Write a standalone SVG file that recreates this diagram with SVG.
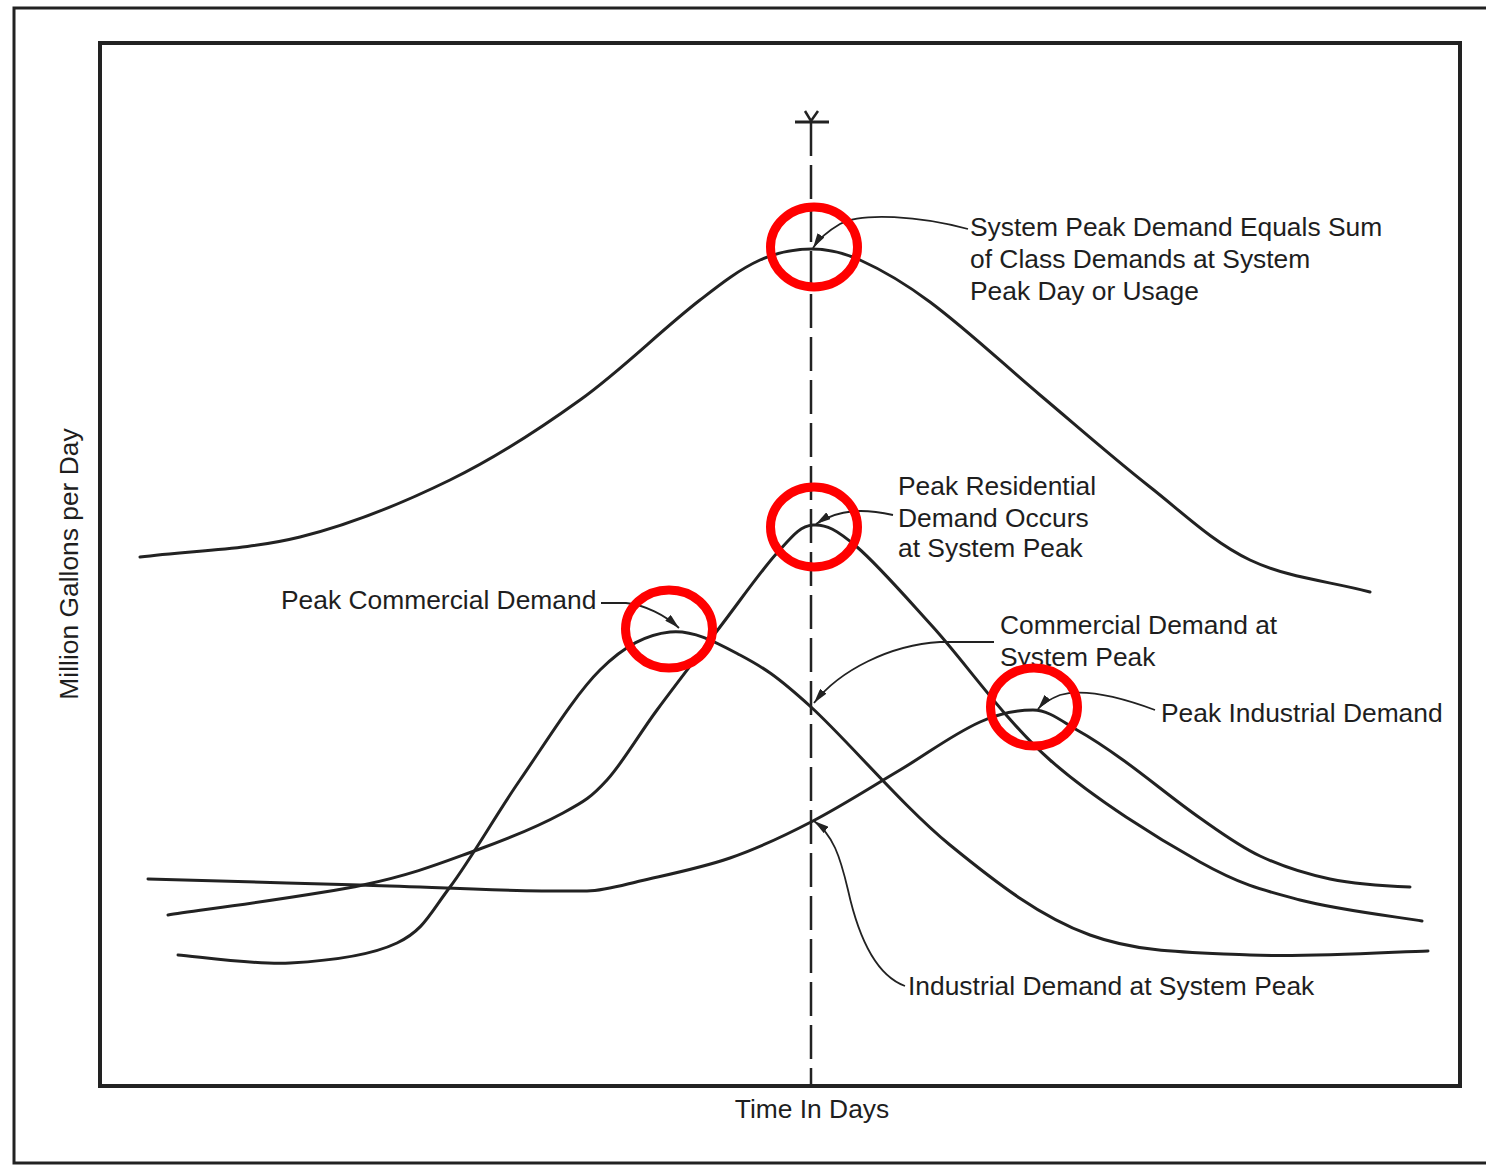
<svg xmlns="http://www.w3.org/2000/svg" width="1486" height="1165" viewBox="0 0 1486 1165">
<style>
.frame{fill:none;stroke:#222;}
.curve{fill:none;stroke:#222;stroke-width:3;stroke-linecap:round;stroke-linejoin:round;}
.leader{fill:none;stroke:#222;stroke-width:1.8;}
.lbl{font-family:"Liberation Sans",Arial,Helvetica,sans-serif;font-size:26.4px;fill:#1e1e1e;}
.ring{fill:none;stroke:#ff0000;stroke-width:9;}
</style>
<defs>
<marker id="arr" viewBox="0 0 15 8" refX="15" refY="4" markerWidth="15" markerHeight="8" markerUnits="userSpaceOnUse" orient="auto">
<path d="M0,0 L15,4 L0,8 Z" fill="#222"/>
</marker>
</defs>
<rect width="1486" height="1165" fill="#fff"/>
<rect class="frame" x="14" y="8" width="1490" height="1155" stroke-width="3"/>
<rect class="frame" x="100" y="43" width="1360" height="1043" stroke-width="4"/>

<g id="axis-marker">
<line x1="811" y1="122" x2="811" y2="1086" stroke="#222" stroke-width="2.5" stroke-dasharray="34 9"/>
<line x1="795" y1="122" x2="829" y2="122" stroke="#222" stroke-width="3"/>
<polyline points="805,111 811,121 818,111" fill="none" stroke="#222" stroke-width="2.5"/>
</g>

<g id="system-curve">
<path class="curve" d="M140,557 C193.3,550.3 247.9,549.9 300,537 C351.9,524.1 402,503.5 450,480 C495.7,457.7 538.7,429.7 580,400 C622.3,369.6 658.9,332 700,300 C718.9,285.3 738.2,269.9 760,260 C776.1,252.7 794.3,249 812,249 C828.4,249 845,253.3 860,260 C884.8,271.2 908.2,285.7 930,302 C968.4,330.8 1003.3,364.1 1040,395 C1076.6,425.8 1112.4,457.5 1150,487 C1182.5,512.5 1212.7,542.2 1250,560 C1287.3,577.8 1330,581.3 1370,592"/>
</g>

<g id="residential-curve">
<path class="curve" d="M168,915 C200.5,910 311.5,895.8 363,885 C414.5,874.2 443.7,862 477,850 C510.3,838 541.3,824.7 563,813 C584.7,801.3 591.3,797.2 607,780 C622.7,762.8 638.2,735.5 657,710 C675.8,684.5 700,653.2 720,627 C740,600.8 761.5,570 777,553 C792.5,536 799.7,526 813,525 C826.3,524 837,530 857,547 C877,564 900.8,591.5 933,627 C965.2,662.5 1005.5,720.8 1050,760 C1094.5,799.2 1158.3,838.7 1200,862 C1241.7,885.3 1263,890.2 1300,900 C1337,909.8 1401.7,917.5 1422,921"/>
</g>

<g id="commercial-curve">
<path class="curve" d="M178,955 C196.7,956.3 253.5,965 290,963 C326.5,961 370.3,955.7 397,943 C423.7,930.3 429.5,914.2 450,887 C470.5,859.8 495,816.2 520,780 C545,743.8 575,694.7 600,670 C625,645.3 646.7,634.5 670,632 C693.3,629.5 716.5,642.5 740,655 C763.5,667.5 776,675.3 811,707 C846,738.7 903.5,807 950,845 C996.5,883 1040,916.7 1090,935 C1140,953.3 1193.7,952.3 1250,955 C1306.3,957.7 1398.3,951.7 1428,951"/>
</g>

<g id="industrial-curve">
<path class="curve" d="M148,879 C183.3,880 286.8,883 360,885 C433.2,887 511.3,892.1 587,891 C604.7,890.7 622.8,885 640,881 C670.2,874 700.7,868.1 730,858 C757.9,848.4 784.8,835.6 811,822 C841.5,806.2 870.4,787.5 900,770 C926.8,754.2 951.7,734.8 980,722 C996.5,714.6 1014.9,710 1033,710 C1049.1,710 1062.9,722.2 1077,730 C1093,738.9 1108.1,749.3 1123,760 C1149.1,778.7 1173.7,799.6 1200,818 C1219.4,831.6 1238.6,845.9 1260,856 C1282.3,866.5 1305.9,874 1330,879 C1356.2,884.4 1383.3,886 1410,887"/>
</g>

<g id="connectors">
<path class="leader" marker-end="url(#arr)" d="M968,229 C920,216 862,212 840,224 C828,231 818,240 813,248"/>
<path class="leader" marker-end="url(#arr)" d="M893,515 C866,509 840,508 816,524"/>
<path class="leader" marker-end="url(#arr)" d="M994,642 L940,642 C890,645 840,670 814,703"/>
<path class="leader" marker-end="url(#arr)" d="M601,603 L626,603 C645,605 665,615 679,628"/>
<path class="leader" marker-end="url(#arr)" d="M1155,710 C1120,697 1085,688 1060,695 C1050,699 1043,703 1038,709"/>
<path class="leader" marker-end="url(#arr)" d="M905,986 C875,975 858,935 848,890 C840,856 833,835 814,821"/>
</g>

<g id="label-system">
<text class="lbl" x="970" y="236">System Peak Demand Equals Sum</text>
<text class="lbl" x="970" y="268">of Class Demands at System</text>
<text class="lbl" x="970" y="300">Peak Day or Usage</text>
</g>
<g id="label-residential">
<text class="lbl" x="898" y="495">Peak Residential</text>
<text class="lbl" x="898" y="527">Demand Occurs</text>
<text class="lbl" x="898" y="557">at System Peak</text>
</g>
<g id="label-commercial-sys">
<text class="lbl" x="1000" y="634">Commercial Demand at</text>
<text class="lbl" x="1000" y="666">System Peak</text>
</g>
<g id="label-peak-commercial">
<text class="lbl" x="281" y="609">Peak Commercial Demand</text>
</g>
<g id="label-peak-industrial">
<text class="lbl" x="1161" y="722">Peak Industrial Demand</text>
</g>
<g id="label-industrial-sys">
<text class="lbl" x="908" y="995">Industrial Demand at System Peak</text>
</g>
<g id="axis-labels">
<text class="lbl" x="812" y="1118" text-anchor="middle">Time In Days</text>
<text class="lbl" transform="translate(78,564) rotate(-90)" text-anchor="middle">Million Gallons per Day</text>
</g>

<g id="highlights">
<ellipse class="ring" cx="814" cy="247" rx="43.5" ry="40"/>
<ellipse class="ring" cx="814" cy="527" rx="43.5" ry="40"/>
<ellipse class="ring" cx="669" cy="629" rx="43.5" ry="39"/>
<ellipse class="ring" cx="1034" cy="707" rx="43.5" ry="39"/>
</g>
</svg>
